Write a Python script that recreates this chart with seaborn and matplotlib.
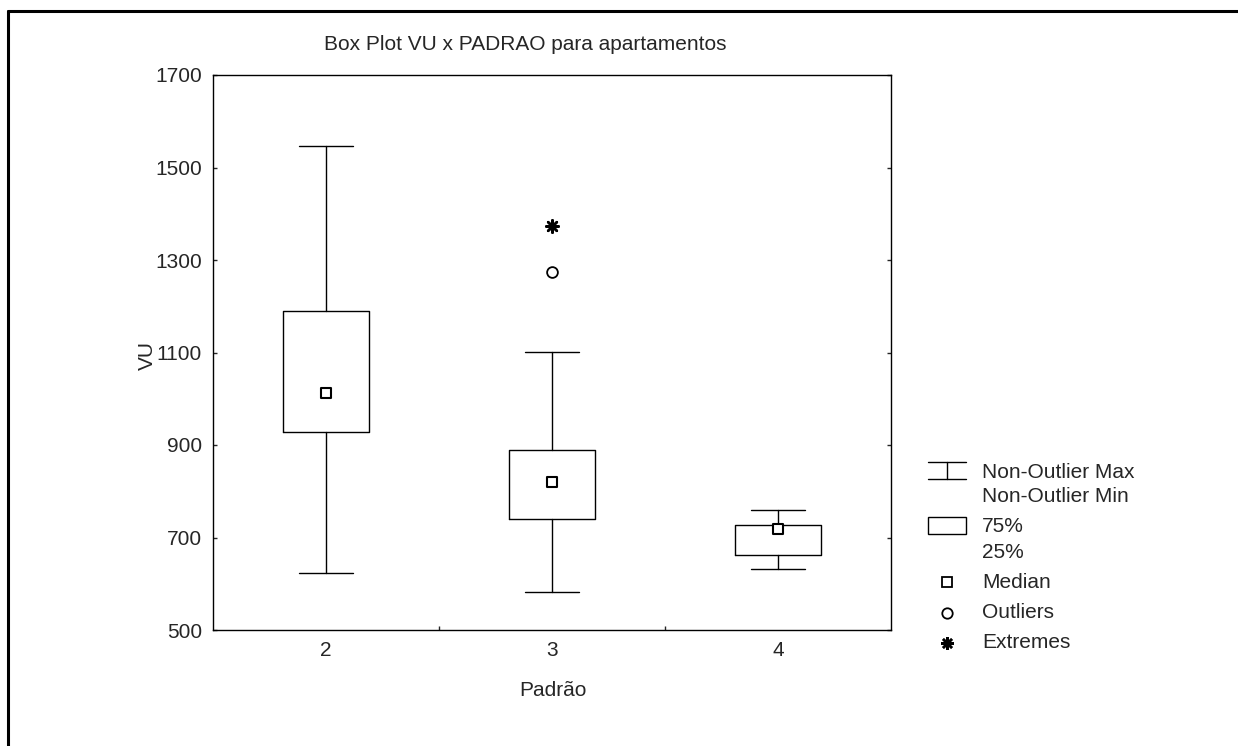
import matplotlib
matplotlib.use("Agg")
import matplotlib.pyplot as plt
from matplotlib.lines import Line2D
from matplotlib.patches import Rectangle
import seaborn as sns
import pandas as pd

# ---- data ----
categories = ["2", "3", "4"]
whisker_max = [1546, 1101, 759]
q3 = [1190, 889, 727]
medians = [1012, 821, 718]
q1 = [928, 740, 662]
whisker_min = [624, 582, 632]
outlier_cat = ["3"]
outlier_val = [1274]
extreme_cat = ["3"]
extreme_val = [1373]

title = "Box Plot VU x PADRAO para apartamentos"
xlabel = "Padrão"
ylabel = "VU"
yticks = [500, 700, 900, 1100, 1300, 1500, 1700]

sns.set_style("white")
plt.rcParams["font.family"] = ["Liberation Sans", "DejaVu Sans"]
FS = 15
plt.rcParams["font.size"] = FS

W, H = 1238, 746
fig = plt.figure(figsize=(W / 100, H / 100), dpi=100)
ax = fig.add_axes([213 / W, 1 - 630 / H, (891 - 213) / W, (630 - 75) / H])

pos = list(range(len(categories)))
stats = []
for i, c in enumerate(categories):
    stats.append(dict(label=c, med=medians[i], q1=q1[i], q3=q3[i],
                      whislo=whisker_min[i], whishi=whisker_max[i], fliers=[]))

lc = "black"
ax.bxp(stats, positions=pos, widths=0.38, capwidths=0.24, showfliers=False,
       boxprops=dict(color=lc, linewidth=1),
       whiskerprops=dict(color=lc, linewidth=1),
       capprops=dict(color=lc, linewidth=1),
       medianprops=dict(linewidth=0), manage_ticks=False)

cat_index = {c: i for i, c in enumerate(categories)}
med_df = pd.DataFrame({"x": pos, "y": medians})
out_df = pd.DataFrame({"x": [cat_index[c] for c in outlier_cat], "y": outlier_val})
ext_df = pd.DataFrame({"x": [cat_index[c] for c in extreme_cat], "y": extreme_val})

sns.scatterplot(data=med_df, x="x", y="y", marker="s", s=55, facecolor="white",
                edgecolor="black", linewidth=1.5, ax=ax, zorder=5)
sns.scatterplot(data=out_df, x="x", y="y", marker="o", s=60, facecolor="white",
                edgecolor="black", linewidth=1.3, ax=ax, zorder=5)
sns.scatterplot(data=ext_df, x="x", y="y", marker=(8, 2, 0), s=80, color="black",
                linewidth=1.8, ax=ax, zorder=5)

ax.set_xlim(-0.5, len(categories) - 0.5)
ax.set_ylim(500, 1700)
ax.set_yticks(yticks)
ax.set_xticks(pos)
ax.set_xticklabels(categories)
ax.set_xticks([p + 0.5 for p in pos[:-1]], minor=True)
ax.tick_params(axis="x", which="major", length=0, pad=8, labelsize=FS)
ax.tick_params(axis="x", which="minor", direction="in", length=3, width=1, bottom=True)
ax.tick_params(axis="y", direction="in", length=3, width=1, left=True, right=True,
               pad=8, labelsize=FS)
for s in ax.spines.values():
    s.set_color("black")
    s.set_linewidth(1)
ax.set_xlabel("")
ax.set_ylabel("")

fig.text(553 / W, 1 - 690 / H, xlabel, ha="center", va="center", fontsize=FS)
fig.text(147 / W, 1 - 355 / H, ylabel, ha="center", va="center", rotation=90, fontsize=FS)
fig.text(525 / W, 1 - 44 / H, title, ha="center", va="center", fontsize=FS)

# outer frame (top and left visible)
fig.add_artist(Line2D([8 / W, 1.0], [1 - 11 / H, 1 - 11 / H], color="black", lw=2.2,
                      transform=fig.transFigure))
fig.add_artist(Line2D([8 / W, 8 / W], [1 - 11 / H, 0.0], color="black", lw=2.2,
                      transform=fig.transFigure))

# legend (manual, right side)
def fx(px):
    return px / W

def fy(py):
    return 1 - py / H

tf = fig.transFigure
fig.add_artist(Line2D([fx(928), fx(966)], [fy(462), fy(462)], color="black", lw=1, transform=tf))
fig.add_artist(Line2D([fx(928), fx(966)], [fy(479), fy(479)], color="black", lw=1, transform=tf))
fig.add_artist(Line2D([fx(947), fx(947)], [fy(462), fy(479)], color="black", lw=1, transform=tf))
fig.add_artist(Rectangle((fx(928), fy(534)), fx(966) - fx(928), fy(517) - fy(534),
                         fill=False, edgecolor="black", lw=1, transform=tf))
fig.add_artist(Line2D([fx(947)], [fy(582)], marker="s", ms=7, mfc="white", mec="black",
                      mew=1.3, transform=tf))
fig.add_artist(Line2D([fx(947)], [fy(613)], marker="o", ms=7.5, mfc="white", mec="black",
                      mew=1.3, transform=tf))
fig.add_artist(Line2D([fx(947)], [fy(643)], marker=(8, 2, 0), ms=9, color="black",
                      mew=1.8, transform=tf))
leg_text = [("Non-Outlier Max", 472), ("Non-Outlier Min", 497), ("75%", 527),
            ("25%", 552), ("Median", 582), ("Outliers", 613), ("Extremes", 643)]
for t, y in leg_text:
    fig.text(fx(982), fy(y), t, ha="left", va="center", fontsize=FS)

fig.savefig("out.png", dpi=100, facecolor="white")
